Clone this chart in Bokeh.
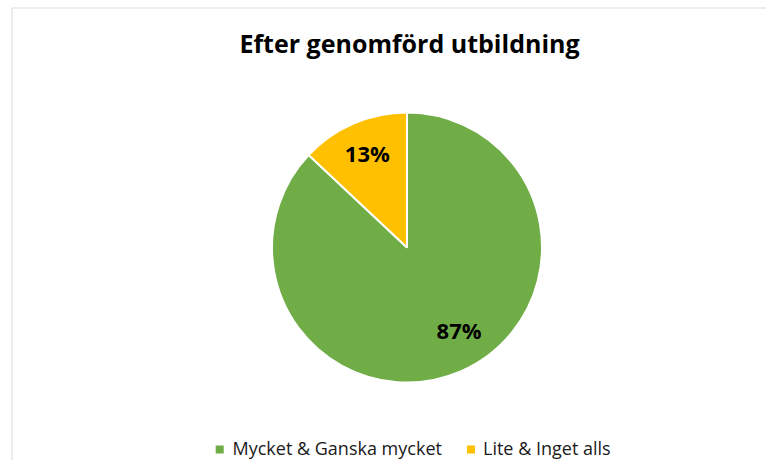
import math
from bokeh.plotting import figure
from bokeh.models import Range1d, ColumnDataSource
from bokeh.core.properties import value
from bokeh.embed import file_html
from bokeh.resources import INLINE

# ---- data ----
title_text = "Efter genomförd utbildning"
categories = ["Mycket & Ganska mycket", "Lite & Inget alls"]
values = [87, 13]
colors = ["#70AD47", "#FFC000"]

# ---- layout (pixels; 1 data unit = 1 px, y measured up from bottom) ----
W, H = 766, 460
cx, cy, R = 406.5, 213.0, 135.0
label_r = 100.0
label_nudge_deg = [8.0, 0.0]   # Excel best-fit label placement
FONT = "Open Sans"

p = figure(width=W, height=H, x_range=Range1d(0, W), y_range=Range1d(0, H),
           output_backend="svg", toolbar_location=None, min_border=0)
p.axis.visible = False
p.grid.visible = False
p.outline_line_color = None
p.background_fill_color = "white"
p.border_fill_color = "white"

# chart-area border (left & top visible in reference)
p.quad(left=[11.5], right=[W + 50], top=[H - 7.5], bottom=[-50],
       fill_color=None, line_color="#d9d9d9", line_width=1)

# wedges, clockwise from 12 o'clock
total = float(sum(values))
starts, ends, mids = [], [], []
a = math.pi / 2
for v in values:
    sweep = v / total * 2 * math.pi
    starts.append(a)
    ends.append(a - sweep)
    mids.append(a - sweep / 2)
    a -= sweep

src = ColumnDataSource(dict(x=[cx] * len(values), y=[cy] * len(values),
                            start=starts, end=ends, color=colors, cat=categories))
p.wedge(x="x", y="y", radius=R, start_angle="start", end_angle="end",
        direction="clock", fill_color="color", line_color="white", line_width=2,
        source=src)

# data labels
lx, ly, lt = [], [], []
for v, m, n in zip(values, mids, label_nudge_deg):
    ang = m + math.radians(n)
    lx.append(cx + label_r * math.cos(ang))
    ly.append(cy + label_r * math.sin(ang))
    lt.append(f"{v}%")
p.text(x=lx, y=ly, text=lt, text_align="center", text_baseline="alphabetic",
       y_offset=-3, text_font=value(FONT), text_font_style="bold",
       text_font_size="22px", text_color="black")

# title
p.text(x=[409], y=[418], text=[title_text], text_align="center",
       text_baseline="alphabetic", text_font=value(FONT), text_font_style="bold",
       text_font_size="25px", text_color="black")

# legend
leg_sq_x = [219.2, 470.5]
leg_tx = [232, 482.5]
p.scatter(x=leg_sq_x, y=[11] * 2, marker="square", size=8,
          fill_color=colors, line_color=None)
p.text(x=leg_tx, y=[12.5] * 2, text=categories, text_align="left",
       text_baseline="alphabetic", text_font=value(FONT),
       text_font_size="18px", text_color="#1a1a1a")

open("out.html", "w").write(file_html(p, INLINE))
